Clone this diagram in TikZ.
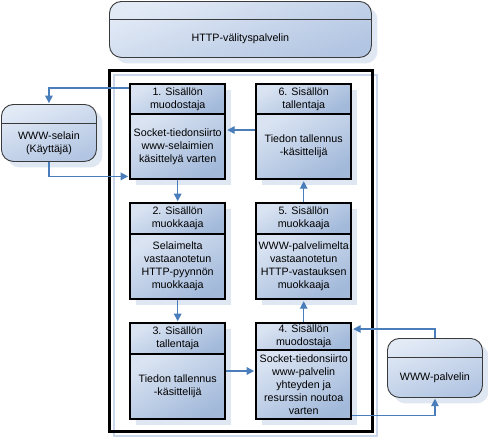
\documentclass[tikz,border=0pt]{standalone}
\usepackage{fontspec}
\setmainfont{Liberation Sans}
\usetikzlibrary{arrows.meta,calc,shadows}
\definecolor{boxtop}{HTML}{D9E3F2}
\definecolor{boxbot}{HTML}{A2B9DA}
\definecolor{rtop}{HTML}{E2EAF6}
\definecolor{rbot}{HTML}{B2C5E2}
\definecolor{shadowc}{HTML}{DFE7F2}
\definecolor{shadowln}{HTML}{CBD8EC}
\definecolor{conncol}{HTML}{4A7EBB}
\definecolor{rboxedge}{HTML}{3A3A3A}
\begin{document}
\begin{tikzpicture}[x=1pt,y=-1pt,
  every node/.style={font=\fontsize{10.7}{13}\selectfont, align=center, inner sep=1pt},
  part/.style={draw=black, line width=2.4pt, top color=boxtop, bottom color=boxbot,
    shading angle=30, minimum width=95pt, anchor=north west,
    drop shadow={shadow xshift=6pt,shadow yshift=-6pt,fill=shadowc,opacity=1}},
  hpart/.style={part, minimum height=30pt},
  bpart/.style={part, minimum height=65pt},
  rbox/.style={draw=rboxedge, line width=0.9pt, rounded corners=12pt,
    top color=rtop, bottom color=rbot, shading angle=20, anchor=north west,
    drop shadow={shadow xshift=6pt,shadow yshift=-6pt,fill=shadowc,opacity=1}},
  divider/.style={draw=rboxedge, line width=0.9pt},
  conn/.style={draw=conncol, line width=1.4pt, shorten >=0.8pt,
    -{Triangle[length=7.5pt,width=7.5pt]}},
]
\useasboundingbox (0,0) rectangle (488,439);

% top proxy box
\node[rbox, minimum width=262pt, minimum height=56pt] (proxy) at (109,1) {};
\draw[divider] ($(proxy.north west)+(0,18)$) -- ($(proxy.north east)+(0,18)$);
\node (proxytxt) at ($(proxy.south)+(0,-19)$) {HTTP-välityspalvelin};

% frame with its outline shadow
\draw[shadowln, line width=2pt] (114,75) rectangle (377,436);
\node[draw=black, line width=3pt, minimum width=263pt, minimum height=361pt,
  anchor=north west, inner sep=0pt] (frame) at (108,69) {};

% process boxes
\node[hpart] (h1) at (129,83) {1. Sisällön\\muodostaja};
\node[bpart] (b1) at (129,113) {Socket-tiedonsiirto\\www-selaimien\\käsittelyä varten};
\node[hpart] (h6) at (255,83) {6. Sisällön\\tallentaja};
\node[bpart] (b6) at (255,113) {Tiedon tallennus\\-käsittelijä};
\node[hpart, minimum height=31pt] (h2) at (129,202) {2. Sisällön\\muokkaaja};
\node[bpart] (b2) at (129,233) {Selaimelta\\vastaanotetun\\HTTP-pyynnön\\muokkaaja};
\node[hpart, minimum height=31pt] (h5) at (255,202) {5. Sisällön\\muokkaaja};
\node[bpart] (b5) at (255,233) {WWW-palvelimelta\\vastaanotetun\\HTTP-vastauksen\\muokkaaja};
\node[hpart, minimum height=31pt] (h3) at (129,322) {3. Sisällön\\tallentaja};
\node[bpart] (b3) at (129,353) {Tiedon tallennus\\-käsittelijä};
\node[hpart, minimum height=27pt] (h4) at (255,322) {4. Sisällön\\muodostaja};
\node[bpart, minimum height=69pt] (b4) at (255,349) {Socket-tiedonsiirto\\www-palvelin\\yhteyden ja\\resurssin noutoa\\varten};

% browser
\node[rbox, minimum width=95pt, minimum height=57pt] (web) at (1,104) {};
\draw[divider] ($(web.north west)+(0,19)$) -- ($(web.north east)+(0,19)$);
\node (webtxt) at ($(web.south)+(0,-19)$) {WWW-selain\\(Käyttäjä)};

% server
\node[rbox, minimum width=95pt, minimum height=59pt] (srv) at (387,338) {};
\draw[divider] ($(srv.north west)+(0,19)$) -- ($(srv.north east)+(0,19)$);
\node (srvtxt) at ($(srv.south)+(0,-20)$) {WWW-palvelin};

% connectors
\draw[conn] ($(h1.north west)+(0,5)$) -| (web.north);
\draw[conn] (web.south) |- ($(b1.south west)+(0,-4)$);
\draw[conn] ($(b6.north west)+(0,17)$) -- ($(b1.north east)+(0,17)$);
\draw[conn] (b1.south) -- (h2.north);
\draw[conn] (b2.south) -- (h3.north);
\draw[conn] ($(b3.north east)+(0,18)$) -- ($(b4.north west)+(0,22)$);
\draw[conn] (h4.north) -- (b5.south);
\draw[conn] (h5.north) -- (b6.south);
\draw[conn] (srv.north) |- ($(h4.north east)+(0,7)$);
\draw[conn] ($(b4.south east)+(0,-5)$) -| (srv.south);
\end{tikzpicture}
\end{document}
